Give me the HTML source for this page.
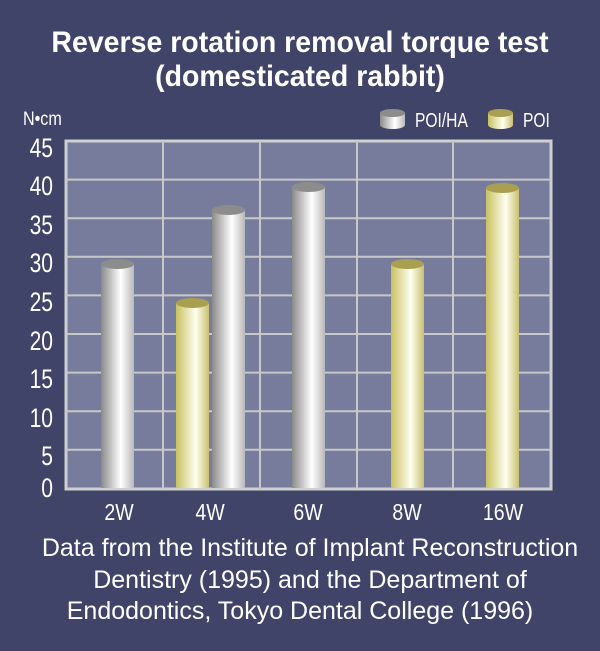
<!DOCTYPE html>
<html><head><style>
body{margin:0;background:#3f4468;}
svg{display:block}
</style></head><body>
<svg width="600" height="651" viewBox="0 0 600 651" xmlns="http://www.w3.org/2000/svg" font-family="Liberation Sans, sans-serif">
<defs>
<linearGradient id="g" x1="0" x2="1"><stop offset="0" stop-color="#8a8a8a"/><stop offset="0.6" stop-color="#ffffff"/><stop offset="1" stop-color="#b8b8b8"/></linearGradient>
<linearGradient id="y" x1="0" x2="1"><stop offset="0" stop-color="#c8c060"/><stop offset="0.6" stop-color="#fffff0"/><stop offset="1" stop-color="#c8c070"/></linearGradient>
</defs>
<rect width="600" height="651" fill="#3f4468"/>
<text x="300" y="52" fill="#fff" font-size="30" font-weight="bold" text-anchor="middle" transform="translate(300,0) scale(0.95,1) translate(-300,0)">Reverse rotation removal torque test</text>
<text x="300" y="86" fill="#fff" font-size="30" font-weight="bold" text-anchor="middle" transform="translate(300,0) scale(0.95,1) translate(-300,0)">(domesticated rabbit)</text>
<text x="0" y="125" fill="#fff" font-size="19" transform="translate(23,0) scale(0.85,1)">N•cm</text>
<!-- legend -->
<rect x="380" y="113" width="25" height="12" fill="url(#g)"/><ellipse cx="392.5" cy="113" rx="12.5" ry="4" fill="#8c8c8c"/><ellipse cx="392.5" cy="125" rx="12.5" ry="4" fill="url(#g)"/>
<text x="0" y="127" fill="#fff" font-size="20" transform="translate(415,0) scale(0.78,1)">POI/HA</text>
<rect x="488" y="113" width="25" height="12" fill="url(#y)"/><ellipse cx="500.5" cy="113" rx="12.5" ry="4" fill="#a8a050"/><ellipse cx="500.5" cy="125" rx="12.5" ry="4" fill="url(#y)"/>
<text x="0" y="127" fill="#fff" font-size="20" transform="translate(523,0) scale(0.78,1)">POI</text>
<!-- plot -->
<rect x="66" y="141" width="485" height="348" fill="#787c9c" stroke="#cfcfcf" stroke-width="3"/>
<g stroke="#c8c8c8" stroke-width="2">
<line x1="66" x2="551" y1="179.6" y2="179.6"/><line x1="66" x2="551" y1="218.2" y2="218.2"/><line x1="66" x2="551" y1="256.8" y2="256.8"/><line x1="66" x2="551" y1="295.4" y2="295.4"/><line x1="66" x2="551" y1="334" y2="334"/><line x1="66" x2="551" y1="372.6" y2="372.6"/><line x1="66" x2="551" y1="411.2" y2="411.2"/><line x1="66" x2="551" y1="449.8" y2="449.8"/>
<line x1="163" x2="163" y1="141" y2="489"/><line x1="260" x2="260" y1="141" y2="489"/><line x1="357" x2="357" y1="141" y2="489"/><line x1="453" x2="453" y1="141" y2="489"/>
</g>
<g fill="#fff" font-size="27" text-anchor="end" transform="translate(53,0) scale(0.78,1)">
<text x="0" y="157">45</text><text x="0" y="195">40</text><text x="0" y="234">35</text><text x="0" y="272">30</text><text x="0" y="311">25</text><text x="0" y="350">20</text><text x="0" y="388">15</text><text x="0" y="427">10</text><text x="0" y="465">5</text><text x="0" y="497">0</text>
</g>
<!-- bars -->
<g>
<rect x="101" y="264" width="33" height="224" fill="url(#g)"/><ellipse cx="117.5" cy="264" rx="16.5" ry="5" fill="#8c8c8c"/>
<rect x="176" y="303" width="33" height="185" fill="url(#y)"/><ellipse cx="192.5" cy="303" rx="16.5" ry="5" fill="#a8a050"/>
<rect x="212" y="210" width="33" height="278" fill="url(#g)"/><ellipse cx="228.5" cy="210" rx="16.5" ry="5" fill="#8c8c8c"/>
<rect x="292" y="187" width="33" height="301" fill="url(#g)"/><ellipse cx="308.5" cy="187" rx="16.5" ry="5" fill="#8c8c8c"/>
<rect x="391" y="264" width="33" height="224" fill="url(#y)"/><ellipse cx="407.5" cy="264" rx="16.5" ry="5" fill="#a8a050"/>
<rect x="486" y="188" width="33" height="300" fill="url(#y)"/><ellipse cx="502.5" cy="188" rx="16.5" ry="5" fill="#a8a050"/>
</g>
<g fill="#fff" font-size="23" text-anchor="middle">
<text x="0" y="520" transform="translate(119,0) scale(0.85,1)">2W</text>
<text x="0" y="520" transform="translate(210,0) scale(0.85,1)">4W</text>
<text x="0" y="520" transform="translate(308,0) scale(0.85,1)">6W</text>
<text x="0" y="520" transform="translate(407,0) scale(0.85,1)">8W</text>
<text x="0" y="520" transform="translate(503,0) scale(0.85,1)">16W</text>
</g>
<g fill="#fff" font-size="25" text-anchor="middle">
<text x="310" y="556">Data from the Institute of Implant Reconstruction</text>
<text x="310" y="588">Dentistry (1995) and the Department of</text>
<text x="300" y="619">Endodontics, Tokyo Dental College (1996)</text>
</g>
</svg>
</body></html>
